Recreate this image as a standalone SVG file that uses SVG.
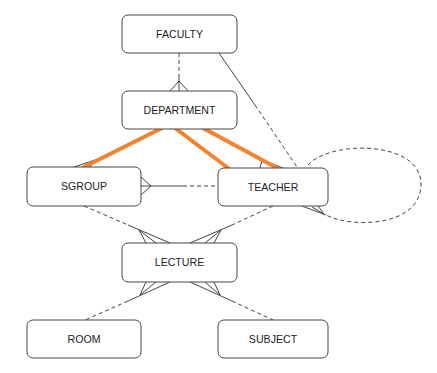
<svg xmlns="http://www.w3.org/2000/svg" width="437" height="373" viewBox="0 0 437 373">
<style>
.box{fill:#fff;stroke:#444;stroke-width:1}
.lbl{font-family:"Liberation Sans",Arial,sans-serif;font-size:10.6px;fill:#222;text-anchor:middle}
.s{fill:none;stroke:#444;stroke-width:1}
.d{fill:none;stroke:#444;stroke-width:1;stroke-dasharray:4,3}
.o{fill:none;stroke:#f7822a;stroke-width:4;stroke-linecap:round}
</style>
<rect width="437" height="373" fill="#fff"/>
<g id="connectors">
  <!-- FACULTY - DEPARTMENT -->
  <path class="d" d="M179,53 V74"/>
  <path class="s" d="M179,74 V91 M170,91 L179,81 L188,91"/>
  <!-- FACULTY - TEACHER -->
  <path class="s" d="M219,53 L255,105"/>
  <path class="d" d="M255,105 L297,167"/>
  <!-- SGROUP - TEACHER -->
  <path class="s" d="M141,186 H183 M141,177 L151,186 L141,195"/>
  <path class="d" d="M183,186 H218"/>
  <!-- DEPARTMENT - SGROUP (under orange) -->
  <path class="s" d="M160,129 L83,167 M74,167 L95,160 L90,167"/>
  <!-- DEPARTMENT - TEACHER (under orange) -->
  <path class="s" d="M202,129 L277,168 M260,168 L262,160 L283,168"/>
  <!-- TEACHER self loop -->
  <path class="d" d="M308,165 C330,140 421,140 421,184 C421,228 350,228 326,215"/>
  <path class="s" d="M326,215 L302,206 M312,207 L324,214 L318,206"/>
  <!-- SGROUP - LECTURE -->
  <path class="d" d="M84,206 L128,225"/>
  <path class="s" d="M128,225 L170,243 M146,243 L139,230 L156,243"/>
  <!-- TEACHER - LECTURE -->
  <path class="d" d="M273,206 L232,225"/>
  <path class="s" d="M232,225 L190,243 M214,243 L221,230 L205,243"/>
  <!-- LECTURE - ROOM -->
  <path class="s" d="M170,282 L128,301 M146,282 L140,295 L156,282"/>
  <path class="d" d="M128,301 L85,320"/>
  <!-- LECTURE - SUBJECT -->
  <path class="s" d="M190,282 L232,301 M214,282 L220,295 L205,282"/>
  <path class="d" d="M232,301 L273,320"/>
  <!-- orange highlights -->
  <path class="o" d="M162,128 L84,167"/>
  <path class="o" d="M175,128 L228,168"/>
  <path class="o" d="M203,128 L277,168"/>
</g>
<g id="FACULTY"><rect class="box" x="122" y="15" width="115" height="38" rx="6"/><text class="lbl" x="179.5" y="38">FACULTY</text></g>
<g id="DEPARTMENT"><rect class="box" x="122" y="91" width="115" height="38" rx="6"/><text class="lbl" x="179.5" y="114">DEPARTMENT</text></g>
<g id="SGROUP"><rect class="box" x="27" y="167" width="114" height="39" rx="6"/><text class="lbl" x="84" y="190">SGROUP</text></g>
<g id="TEACHER"><rect class="box" x="218" y="168" width="110" height="38" rx="6"/><text class="lbl" x="273" y="191">TEACHER</text></g>
<g id="LECTURE"><rect class="box" x="122" y="243" width="115" height="39" rx="6"/><text class="lbl" x="179.5" y="266">LECTURE</text></g>
<g id="ROOM"><rect class="box" x="27" y="320" width="114" height="38" rx="6"/><text class="lbl" x="84" y="343">ROOM</text></g>
<g id="SUBJECT"><rect class="box" x="218" y="320" width="110" height="38" rx="6"/><text class="lbl" x="273" y="343">SUBJECT</text></g>
</svg>
